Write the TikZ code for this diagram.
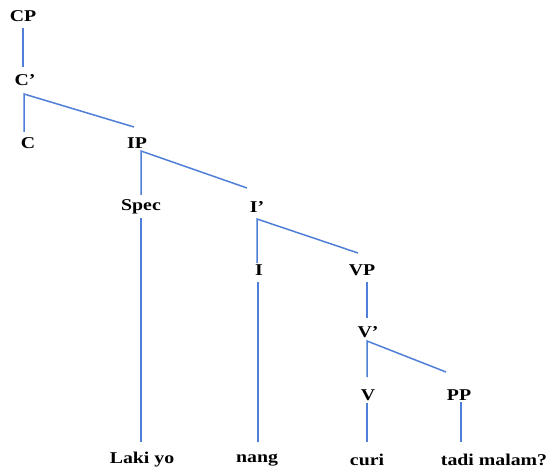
\documentclass[tikz,border=0pt]{standalone}
\usepackage{fontspec}
\setmainfont[FakeStretch=1.2]{Liberation Serif}
\begin{document}
\begin{tikzpicture}[x=1pt,y=-1pt]
\definecolor{treeblue}{HTML}{4F7FD6}
\tikzset{
  lbl/.style={font=\fontsize{16.5}{19}\selectfont\bfseries, inner sep=0pt, anchor=center},
  branch/.style={draw=treeblue, line width=1.5pt},
}
\useasboundingbox (0,0) rectangle (548,470);

% category labels
\node[lbl] (CP)   at (23,16)  {CP};
\node[lbl] (Cb)   at (25,80)  {C’};
\node[lbl] (C)    at (28,143) {C};
\node[lbl] (IP)   at (137,143) {IP};
\node[lbl] (Spec) at (141,207) {Spec};
\node[lbl] (Ib)   at (257,207) {I’};
\node[lbl] (I)    at (259,270) {I};
\node[lbl] (VP)   at (362,270) {VP};
\node[lbl] (Vb)   at (368,332) {V’};
\node[lbl] (V)    at (368,395) {V};
\node[lbl] (PP)   at (459,395) {PP};

% words
\node[lbl] (w1) at (142,460) {Laki yo};
\node[lbl] (w2) at (257,460) {nang};
\node[lbl] (w3) at (367,460) {curi};
\node[lbl] (w4) at (494,460) {tadi malam?};

% branch end points
\coordinate (CPd) at (23,28);   \coordinate (Cbu) at (23,67);
\coordinate (Cbv) at (24,94);   \coordinate (Cu)  at (24,132);  \coordinate (IPu) at (134,127);
\coordinate (IPv) at (141,151); \coordinate (Specu) at (141,195); \coordinate (Ibu) at (247,188);
\coordinate (Specd) at (141,218); \coordinate (w1u) at (141,442);
\coordinate (Ibv) at (257,219); \coordinate (Iu) at (257,263); \coordinate (VPu) at (358,253);
\coordinate (Id) at (258,282);  \coordinate (w2u) at (258,442);
\coordinate (VPd) at (367,282); \coordinate (Vbu) at (367,318);
\coordinate (Vbv) at (367,341); \coordinate (Vu) at (367,377); \coordinate (PPu) at (446,372);
\coordinate (Vd) at (367,403);  \coordinate (w3u) at (367,442);
\coordinate (PPd) at (461,402); \coordinate (w4u) at (461,442);

% branches
\draw[branch] (CPd) -- (Cbu);
\draw[branch] (Cu) -- (Cbv) -- (IPu);
\draw[branch] (Specu) -- (IPv) -- (Ibu);
\draw[branch] (Specd) -- (w1u);
\draw[branch] (Iu) -- (Ibv) -- (VPu);
\draw[branch] (Id) -- (w2u);
\draw[branch] (VPd) -- (Vbu);
\draw[branch] (Vu) -- (Vbv) -- (PPu);
\draw[branch] (Vd) -- (w3u);
\draw[branch] (PPd) -- (w4u);
\end{tikzpicture}
\end{document}
